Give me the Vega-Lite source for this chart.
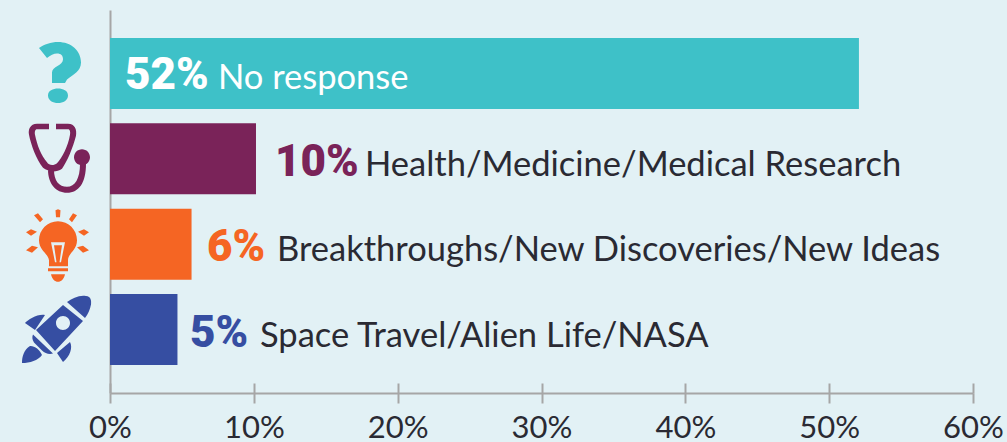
{
"$schema":"https://vega.github.io/schema/vega-lite/v6.json",
"width":863,"height":383,
"autosize":{"type":"none"},
"padding":{"left":110,"top":10,"right":34,"bottom":49},
"background":"#E2F1F5",
"view":{"stroke":null},
"config":{"view":{"stroke":null}},
"data":{"values":[
{"category":"No response","value":52.07,"pct":"52%"},
{"category":"Health/Medicine/Medical Research","value":10.15,"pct":"10%"},
{"category":"Breakthroughs/New Discoveries/New Ideas","value":5.67,"pct":"6%"},
{"category":"Space Travel/Alien Life/NASA","value":4.69,"pct":"5%"}
]},
"encoding":{"y":{"field":"category","type":"nominal","sort":null,
"scale":{"domain":["No response","Health/Medicine/Medical Research","Breakthroughs/New Discoveries/New Ideas","Space Travel/Alien Life/NASA"],"paddingInner":0.168,"paddingOuter":0.328},
"axis":{"title":null,"labels":false,"ticks":false,"domainColor":"#A6A6A6","domainWidth":2,"grid":false}}},
"resolve":{"axis":{"x":"independent"}},
"layer":[
{"mark":{"type":"bar","cornerRadius":0},
"encoding":{"x":{"field":"value","type":"quantitative","scale":{"domain":[0,60],"nice":false},
"axis":{"orient":"bottom","title":null,"values":[0,10,20,30,40,50,60],"format":".0f","labelExpr":"datum.label + '%'","grid":false,"domainColor":"#A6A6A6","domainWidth":2,"tickColor":"#A6A6A6","tickWidth":2,"tickSize":10,"labelPadding":10,"labelFont":"Lato","labelFontSize":31,"labelColor":"#2A2A33","labelFlush":false,"labelOverlap":false}},
"color":{"field":"category","type":"nominal","legend":null,"scale":{"domain":["No response","Health/Medicine/Medical Research","Breakthroughs/New Discoveries/New Ideas","Space Travel/Alien Life/NASA"],"range":["#3EC1C8","#7A2359","#F56523","#364EA2"]}}}},
{"mark":{"type":"point","filled":true,"size":4,"opacity":1,"xOffset":-52,"clip":false},
"encoding":{"x":{"datum":0,"type":"quantitative",
"axis":{"orient":"top","offset":-383,"title":null,"values":[0,10,20,30,40,50,60],"labels":false,"domain":false,"grid":false,"tickColor":"#A6A6A6","tickWidth":2,"tickSize":10}},
"color":{"field":"category","type":"nominal","legend":null},
"shape":{"field":"category","type":"nominal","legend":null,"scale":{"domain":["No response","Health/Medicine/Medical Research","Breakthroughs/New Discoveries/New Ideas","Space Travel/Alien Life/NASA"],"range":[
"M-19,-25.5 C-14,-29 -7,-31.5 0,-31.5 C13,-31.5 23,-23 23,-11 C23,-2 15,1 9,6 L7,9.5 L-6,9.5 L-6,-1 C-6,-7 5,-8 5,-14 C5,-18 3,-20 -1,-20 C-4,-20 -8,-18 -11,-15.5 Z M-10,22 C-10,17 -5,15 0,15 C5,15 10,17 10,22 C10,27 5,29.5 0,29.5 C-5,29.5 -10,27 -10,22 Z",
"M-9,-35 L-21,-35 C-28,-35 -30,-29 -29,-24 C-27,-14 -22,0 -15,9 C-10,13 -2,14 4,10 C9,3 15,-11 18,-23 C19,-29 17,-35 10,-35 L-2,-35 L-2,-29.5 L10,-29.5 C12,-29.5 12.5,-27 12,-24 C10,-12 4,-1 -1,4.5 C-4,7 -9,7 -11,3.5 C-17,-3 -21,-14 -23,-24 C-23.5,-27 -23,-29.5 -21,-29.5 L-9,-29.5 Z M-10,11 C-10,25 -2,34 9,34 C21,34 28,24 28,5 L22,5 C22,20 17,28 9,28 C1,28 -4,22 -4,11 Z M16,-1.5 A8,8 0 1 0 32,-1.5 A8,8 0 1 0 16,-1.5 Z",
"M-9,22 L-9,16 C-10,9 -19,6 -19,-4 A19,19 0 1 1 19,-4 C19,6 10,9 10,16 L10,22 Z M-7,-2 L-3,18 L3,18 L7,-2 Z M-4,1 L4,1 L1.5,18 L-1.5,18 Z M-10,24 L10,24 L10,27 L-10,27 Z M-7,30 L7,30 C6,35 3,37.5 0,37.5 C-3,37.5 -6,35 -7,30 Z M-2.5,-34 L0,-35 L2.5,-34 L2,-27 L-2,-27 Z M-24,-29 L-20,-31 L-15,-25 L-18,-22 Z M19,-29 L15,-31 L11,-25 L14,-22 Z M-32,-12 L-27,-15 L-21,-12.5 L-27,-8.5 Z M31,-12 L26,-15 L20,-12.5 L26,-8.5 Z M-32,6 L-26,1.5 L-20,3 L-26,8.5 Z M31,6 L25,1.5 L19,3 L25,8.5 Z",
"M9,-27.5 C14,-31 22,-35 28,-33.5 C33,-33 33.5,-29 33,-25 C32,-20 30,-15 27,-11.5 Z M5,-24.5 L25,-8.5 L-3,21.5 L-22,0.5 Z M-2,-6.5 A7,7 0 1 0 12,-6.5 A7,7 0 1 0 -2,-6.5 Z M-25,5 L-5,24 C-9,25 -13,24 -16,21 L-24,13 C-26,10 -26,7 -25,5 Z M-33,-6.5 C-30,-10 -20,-16 -13,-14.5 L-23,0.5 Z M-1,23.5 L12,12.5 C15,18 12,27 5,32.5 Z M-36,33.5 C-36,27 -34,20 -28,16.5 C-24,16 -18,20 -16,25.5 C-20,31 -28,33.5 -36,33.5 Z"
]}}}},
{"transform":[{"filter":"datum.pct === '52%'"}],"mark":{"type":"text","align":"left","baseline":"alphabetic","dx":15,"dy":16,"font":"Roboto","fontWeight":900,"fontSize":44,"color":"#FFFFFF"},
"encoding":{"x":{"datum":0,"type":"quantitative","axis":null},"text":{"field":"pct"}}},
{"transform":[{"filter":"datum.pct === '52%'"}],"mark":{"type":"text","align":"left","baseline":"alphabetic","dx":108,"dy":16,"font":"Lato","fontSize":34.5,"color":"#FFFFFF"},
"encoding":{"x":{"datum":0,"type":"quantitative","axis":null},"text":{"field":"category"}}},
{"transform":[{"filter":"datum.pct === '10%'"}],"mark":{"type":"text","align":"left","baseline":"alphabetic","dx":19,"dy":17,"font":"Roboto","fontWeight":900,"fontSize":44,"color":"#7A2359"},
"encoding":{"x":{"field":"value","type":"quantitative","axis":null},"text":{"field":"pct"}}},
{"transform":[{"filter":"datum.pct === '10%'"}],"mark":{"type":"text","align":"left","baseline":"alphabetic","dx":109,"dy":17,"font":"Lato","fontSize":34.5,"color":"#2A2A33"},
"encoding":{"x":{"field":"value","type":"quantitative","axis":null},"text":{"field":"category"}}},
{"transform":[{"filter":"datum.pct === '6%'"}],"mark":{"type":"text","align":"left","baseline":"alphabetic","dx":15.5,"dy":17,"font":"Roboto","fontWeight":900,"fontSize":44,"color":"#F56523"},
"encoding":{"x":{"field":"value","type":"quantitative","axis":null},"text":{"field":"pct"}}},
{"transform":[{"filter":"datum.pct === '6%'"}],"mark":{"type":"text","align":"left","baseline":"alphabetic","dx":85.5,"dy":17,"font":"Lato","fontSize":34.5,"color":"#2A2A33"},
"encoding":{"x":{"field":"value","type":"quantitative","axis":null},"text":{"field":"category"}}},
{"transform":[{"filter":"datum.pct === '5%'"}],"mark":{"type":"text","align":"left","baseline":"alphabetic","dx":12.5,"dy":17,"font":"Roboto","fontWeight":900,"fontSize":44,"color":"#364EA2"},
"encoding":{"x":{"field":"value","type":"quantitative","axis":null},"text":{"field":"pct"}}},
{"transform":[{"filter":"datum.pct === '5%'"}],"mark":{"type":"text","align":"left","baseline":"alphabetic","dx":82.5,"dy":17,"font":"Lato","fontSize":34.5,"color":"#2A2A33"},
"encoding":{"x":{"field":"value","type":"quantitative","axis":null},"text":{"field":"category"}}}
]
}
